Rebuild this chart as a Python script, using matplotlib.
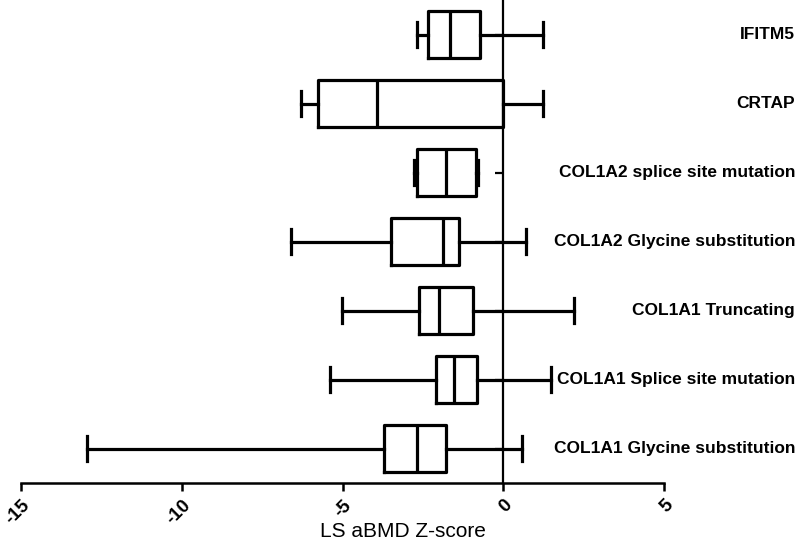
import numpy as np
import matplotlib
matplotlib.use('Agg')
import matplotlib.pyplot as plt
import matplotlib.transforms as mtransforms

plt.rcParams['font.family'] = ['Liberation Sans', 'DejaVu Sans']
plt.rcParams['axes.unicode_minus'] = False

# groups from bottom to top
groups = ['COL1A1 Glycine substitution', 'COL1A1 Splice site mutation',
          'COL1A1 Truncating', 'COL1A2 Glycine substitution',
          'COL1A2 splice site mutation', 'CRTAP', 'IFITM5']
whislo = [-12.96, -5.39, -5.02, -6.59, -2.77, -6.29, -2.68]
q1 = [-3.70, -2.09, -2.61, -3.49, -2.69, -5.78, -2.33]
med = [-2.69, -1.54, -2.01, -1.87, -1.78, -3.93, -1.65]
q3 = [-1.77, -0.81, -0.94, -1.37, -0.85, 0.0, -0.72]
whishi = [0.59, 1.49, 2.21, 0.71, -0.78, 1.24, 1.24]
xticks = [-15, -10, -5, 0, 5]

stats = []
for i in range(len(groups)):
    stats.append(dict(label=groups[i], whislo=whislo[i], q1=q1[i], med=med[i],
                      q3=q3[i], whishi=whishi[i], fliers=[]))

fig = plt.figure(figsize=(8, 5.41), dpi=100)
ax = fig.add_axes([0.02625, 0.1072, 0.804, 0.8928])

lw = 2.3
pos = np.arange(len(groups))
ax.bxp(stats, positions=pos, vert=False, widths=0.67, capwidths=0.35,
       showfliers=False, patch_artist=False,
       boxprops=dict(color='black', linewidth=lw),
       whiskerprops=dict(color='black', linewidth=lw),
       capprops=dict(color='black', linewidth=lw),
       medianprops=dict(color='black', linewidth=lw))

ax.set_xlim(-15, 5)
ax.set_ylim(-0.5, 6.5)

# y axis sits at x = 0 (its tick only shows where nothing covers it)
ax.spines['left'].set_position(('data', 0))
ax.spines['left'].set_linewidth(1.6)
ax.spines['right'].set_visible(False)
ax.spines['top'].set_visible(False)
ax.spines['bottom'].set_linewidth(1.8)
ax.set_yticks([p for p, g in zip(pos, groups) if g != 'CRTAP'])
ax.set_yticklabels([])
ax.tick_params(axis='y', direction='out', length=6, width=1.6)

ax.set_xticks(xticks)
ax.set_xticklabels([str(t) for t in xticks], rotation=45, ha='right',
                   va='top', rotation_mode='anchor', fontsize=13.5,
                   fontweight='bold')
ax.tick_params(axis='x', direction='out', length=6, width=1.8, pad=4)

trans = mtransforms.blended_transform_factory(fig.transFigure, ax.transData)
for i, g in enumerate(groups):
    ax.text(0.994, pos[i], g, transform=trans, ha='right', va='center',
            fontsize=12.5, fontweight='bold')

fig.text(0.504, 0.008, 'LS aBMD Z-score', ha='center', va='baseline',
         fontsize=15)

fig.savefig('out.png', dpi=100)
